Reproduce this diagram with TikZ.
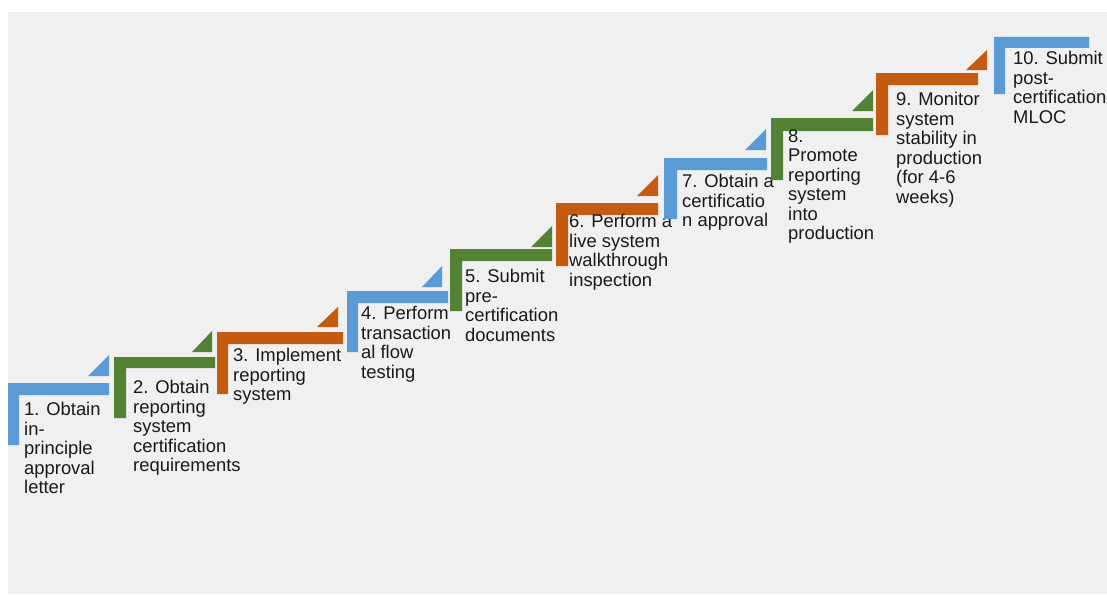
\documentclass[tikz,border=0pt]{standalone}
\usepackage{fontspec}
\setmainfont{Liberation Sans}
\definecolor{stepblue}{HTML}{5B9BD5}
\definecolor{stepgreen}{HTML}{548235}
\definecolor{steporange}{HTML}{C55A11}
\definecolor{backgray}{HTML}{F0F0F0}
\tikzstyle{bluebar} = [fill=stepblue]
\tikzstyle{greenbar} = [fill=stepgreen]
\tikzstyle{orangebar} = [fill=steporange]
\tikzstyle{steptext} = [anchor=north west, 
yshift=13.65pt, % first baseline sits at the given point
inner sep=0pt, 
align=left, 
text=black!90, 
execute at begin node=\strut, 
font=\fontsize{18.4}{19.5}\selectfont]

\begin{document}
\begin{tikzpicture}[x=1pt, y=-1pt]

    \useasboundingbox (0,0) rectangle (1107,594);
    \fill [backgray] (8,12) rectangle (1107,594);

    % step 1
    \fill [bluebar] (8,383) -- (109,383) -- (109,395) -- (19,395) -- (19,445) -- (8,445) -- cycle;
    \fill [bluebar] (88,376) -- (109,376) -- (109,355) -- cycle;
    \node (obtain_letter) [steptext] at (24,416) {1. Obtain\\in-\\principle\\approval\\letter};

    % step 2
    \fill [greenbar] (114,357) -- (215,357) -- (215,368) -- (126,368) -- (126,418) -- (114,418) -- cycle;
    \fill [greenbar] (192,352) -- (212,352) -- (212,331) -- cycle;
    \node (obtain_req) [steptext] at (133,394) {2. Obtain\\reporting\\system\\certification\\requirements};

    % step 3
    \fill [orangebar] (217,332) -- (343,332) -- (343,344) -- (228,344) -- (228,394) -- (217,394) -- cycle;
    \fill [orangebar] (317,327) -- (338,327) -- (338,307) -- cycle;
    \node (implement) [steptext] at (233,362) {3. Implement\\reporting\\system};

    % step 4
    \fill [bluebar] (347,291) -- (448,291) -- (448,303) -- (358,303) -- (358,352) -- (347,352) -- cycle;
    \fill [bluebar] (422,287) -- (442,287) -- (442,266) -- cycle;
    \node (flow_test) [steptext] at (361,320) {4. Perform\\transaction\\al flow\\testing};

    % step 5
    \fill [greenbar] (450,249) -- (552,249) -- (552,261) -- (462,261) -- (462,311) -- (450,311) -- cycle;
    \fill [greenbar] (531,247) -- (552,247) -- (552,226) -- cycle;
    \node (pre_docs) [steptext] at (465,283) {5. Submit\\pre-\\certification\\documents};

    % step 6
    \fill [orangebar] (556,203) -- (658,203) -- (658,215) -- (568,215) -- (568,266) -- (556,266) -- cycle;
    \fill [orangebar] (637,196) -- (658,196) -- (658,175) -- cycle;
    \node (walkthrough) [steptext] at (569,228) {6. Perform a\\live system\\walkthrough\\inspection};

    % step 7
    \fill [bluebar] (664,158) -- (767,158) -- (767,170) -- (677,170) -- (677,219) -- (664,219) -- cycle;
    \fill [bluebar] (745,150) -- (766,150) -- (766,129) -- cycle;
    \node (cert_approval) [steptext] at (682,188) {7. Obtain a\\certificatio\\n approval};

    % step 8
    \fill [greenbar] (771,118) -- (873,118) -- (873,131) -- (783,131) -- (783,180) -- (771,180) -- cycle;
    \fill [greenbar] (852,111) -- (873,111) -- (873,90) -- cycle;
    \node (promote) [steptext] at (788,143) {8.\\Promote\\reporting\\system\\into\\production};

    % step 9
    \fill [orangebar] (876,73) -- (978,73) -- (978,85) -- (888,85) -- (888,135) -- (876,135) -- cycle;
    \fill [orangebar] (966,70) -- (987,70) -- (987,50) -- cycle;
    \node (monitor) [steptext] at (896,106) {9. Monitor\\system\\stability in\\production\\(for 4-6\\weeks)};

    % step 10
    \fill [bluebar] (994,37) -- (1089,37) -- (1089,48) -- (1005,48) -- (1005,94) -- (994,94) -- cycle;
    \node (post_mloc) [steptext] at (1013,65) {10. Submit\\post-\\certification\\MLOC};

\end{tikzpicture}
\end{document}
